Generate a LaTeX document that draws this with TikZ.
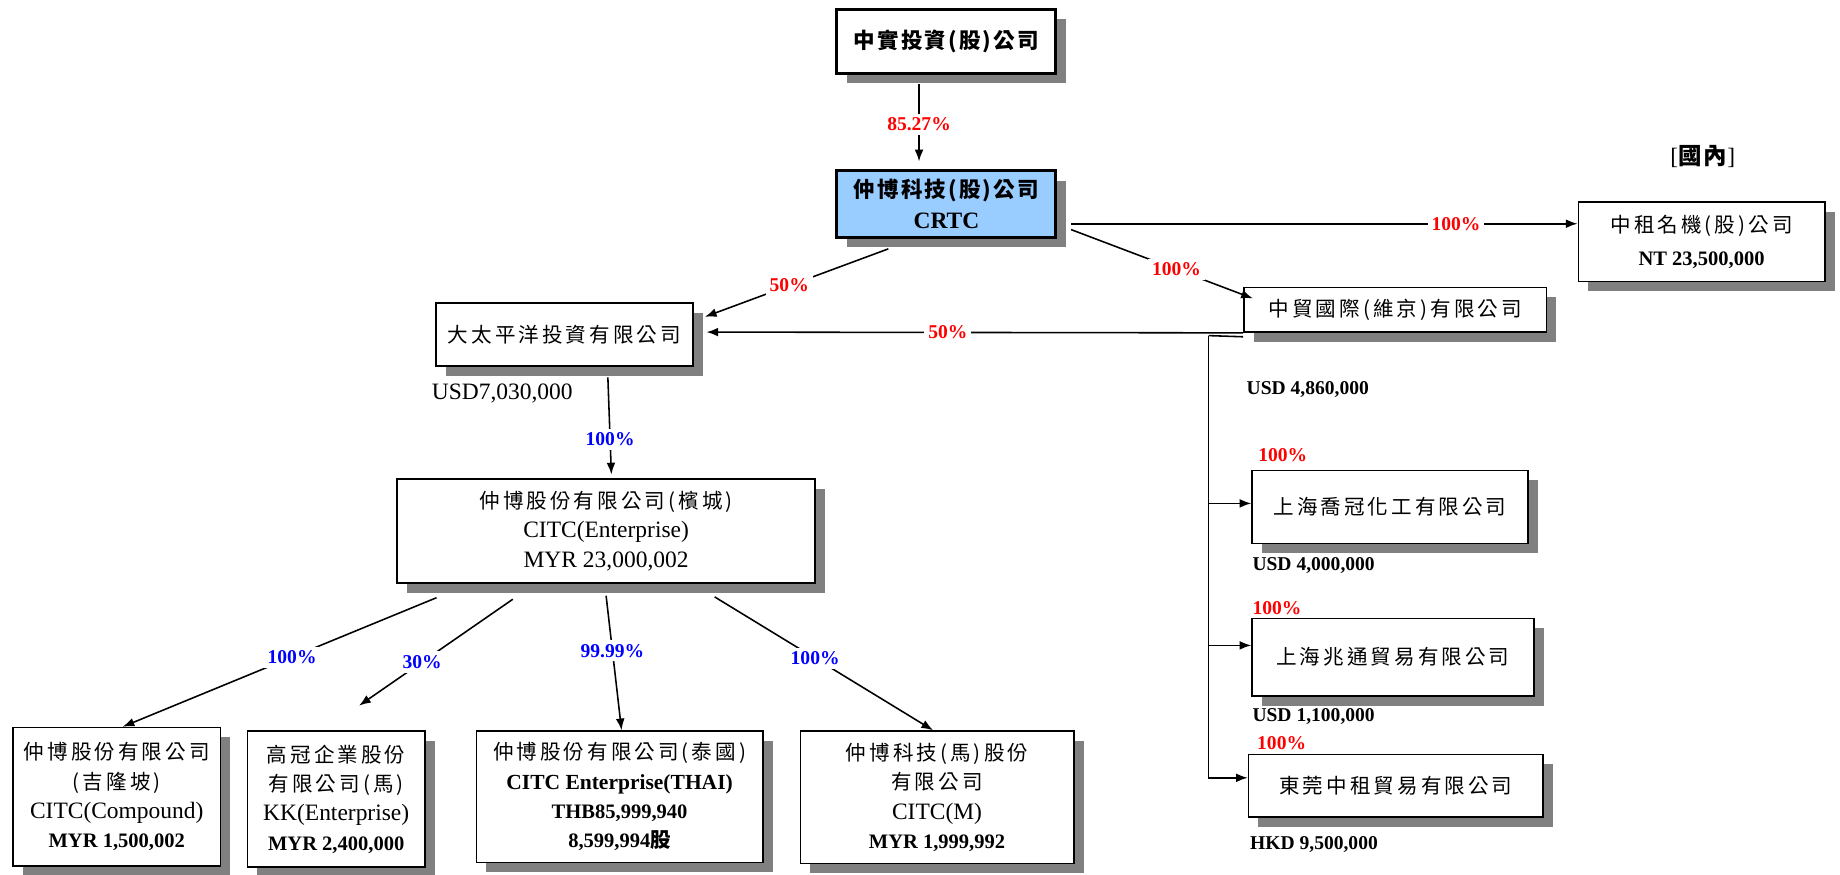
\documentclass[tikz,border=0pt]{standalone}
\usepackage{fontspec}
\setmainfont{Liberation Serif}
\newfontfamily\cjk{Noto Sans CJK TC}[LetterSpace=15]
\newfontfamily\cjkb{Noto Sans CJK TC}[LetterSpace=10]
\usetikzlibrary{positioning,shadows,arrows.meta}
\definecolor{skyfill}{HTML}{99CCFF}
\newcommand{\capfont}{\fontsize{10.5}{14}\selectfont\bfseries}

\tikzstyle{compblock} = [rectangle, draw=black, line width=0.8pt, fill=white, align=center, inner sep=1pt, drop shadow={shadow xshift=5pt, shadow yshift=-5pt, fill=gray, opacity=1}, font=\fontsize{12}{15}\selectfont]
\tikzstyle{keyblock} = [compblock, line width=1.5pt, font=\fontsize{11}{16}\selectfont\bfseries]
\tikzstyle{pctred} = [fill=white, inner sep=2pt, text=red, font=\fontsize{10}{12}\selectfont\bfseries]
\tikzstyle{pctblue} = [pctred, text=blue]
\tikzstyle{pcttag} = [anchor=west, inner sep=0pt, text=red, font=\fontsize{10}{12}\selectfont\bfseries]
\tikzstyle{capital} = [anchor=west, inner sep=0pt, font=\fontsize{10}{12}\selectfont\bfseries]

\begin{document}
\begin{tikzpicture}[x=0.6pt, y=-0.6pt, >={Latex[length=6pt,width=4.5pt]}]
\useasboundingbox (0,0) rectangle (1568,745);
%Company blocks
\node (zhongshi) [keyblock, minimum width=112pt, minimum height=32.7pt] at (806.5,35) {{\cjkb 中實投資(股)公司}};
\node (crtc) [keyblock, fill=skyfill, minimum width=112pt, minimum height=34.2pt] at (806.5,174) {{\cjkb 仲博科技(股)公司}\\{\fontsize{12}{16}\selectfont CRTC}};
\node (zhongzu) [compblock, minimum width=126pt, minimum height=40.8pt] at (1450,206) {{\cjk\fontsize{10.5}{15}\selectfont 中租名機(股)公司}\\[2pt]{\capfont NT 23,500,000}};
\node (zhongmao) [compblock, minimum width=154.8pt, minimum height=22.8pt] at (1189,264) {\cjk\fontsize{10.5}{15}\selectfont 中貿國際(維京)有限公司};
\node (taipy) [compblock, minimum width=131.4pt, minimum height=32.4pt] at (481,285) {\cjk\fontsize{10.5}{15}\selectfont 大太平洋投資有限公司};
\node (citcent) [compblock, minimum width=213.6pt, minimum height=53.4pt] at (516.5,452.5) {{\cjk\fontsize{10.5}{15}\selectfont 仲博股份有限公司(檳城)}\\CITC(Enterprise)\\MYR 23,000,002};

\node (citccomp) [compblock, minimum width=106.2pt, minimum height=70.8pt] at (99.5,679) {{\cjk\fontsize{10.5}{15}\selectfont 仲博股份有限公司}\\{\cjk\fontsize{10.5}{15}\selectfont (吉隆坡)}\\CITC(Compound)\\{\capfont MYR 1,500,002}};
\node (kkent) [compblock, minimum width=90.6pt, minimum height=69.6pt] at (286.5,681) {{\cjk\fontsize{10.5}{15}\selectfont 高冠企業股份}\\{\cjk\fontsize{10.5}{15}\selectfont 有限公司(馬)}\\KK(Enterprise)\\{\capfont MYR 2,400,000}};
\node (citcthai) [compblock, minimum width=146.4pt, minimum height=67.2pt] at (528,679) {{\cjk\fontsize{10.5}{15}\selectfont 仲博股份有限公司(泰國)}\\{\bfseries\fontsize{11}{14}\selectfont CITC Enterprise(THAI)}\\{\capfont THB85,999,940}\\{\capfont 8,599,994{\cjkb 股}}};
\node (citcm) [compblock, minimum width=139.8pt, minimum height=67.8pt] at (798.5,679.5) {{\cjk\fontsize{10.5}{15}\selectfont 仲博科技(馬)股份}\\{\cjk\fontsize{10.5}{15}\selectfont 有限公司}\\CITC(M)\\{\capfont MYR 1,999,992}};

\node (qiaoguan) [compblock, minimum width=141pt, minimum height=37.2pt] at (1184.5,432) {\cjk\fontsize{10.5}{15}\selectfont 上海喬冠化工有限公司};
\node (zhaotong) [compblock, minimum width=144pt, minimum height=39.6pt] at (1187,560) {\cjk\fontsize{10.5}{15}\selectfont 上海兆通貿易有限公司};
\node (dongguan) [compblock, minimum width=150.6pt, minimum height=31.8pt] at (1189.5,669.5) {\cjk\fontsize{10.5}{15}\selectfont 東莞中租貿易有限公司};

%Capital and labels
\node (domestic) [font=\fontsize{12}{14}\selectfont] at (1451,133) {[{\cjkb\bfseries 國內}]};
\node (usdtp) [font=\fontsize{12}{14}\selectfont] at (428,335) {USD7,030,000};
\node (usdzm) [capital] at (1062,332) {USD 4,860,000};
\node (usdqg) [capital] at (1067,481.5) {USD 4,000,000};
\node (usdzt) [capital] at (1067,611) {USD 1,100,000};
\node (hkddg) [capital] at (1065,720) {HKD 9,500,000};
\node (pctqg) [pcttag] at (1072,388) {100\%};
\node (pctzt) [pcttag] at (1067,518) {100\%};
\node (pctdg) [pcttag] at (1071,633) {100\%};

%Arrows
\draw [->,thick] ([xshift=-14pt,yshift=-5pt]zhongshi.south) -- node[pctred,pos=0.52] (pcrtc) {85.27\%} ([xshift=-14pt,yshift=4pt]crtc.north);
\coordinate (crtcout) at ([xshift=7pt,yshift=-10pt]crtc.east);
\draw [->,thick] (crtcout) -- node[pctred,pos=0.76] (pzz) {100\%} (crtcout -| zhongzu.west);
\draw [->,thick] ([xshift=7pt,yshift=-13pt]crtc.east) -- node[pctred,pos=0.58] (pzm) {100\%} ([xshift=5pt,yshift=-6pt]zhongmao.north west);
\draw [->,thick] ([xshift=-29.7pt,yshift=-5pt]crtc.south) -- node[pctred,pos=0.54] (ptp1) {50\%} ([xshift=5.7pt,yshift=9pt]taipy.east);
\draw [->,thick] (zhongmao.south west) -- node[pctred,pos=0.55] (ptp2) {50\%} ([xshift=6.5pt,yshift=1.2pt]taipy.east);
\draw [->,thick] ([xshift=22.2pt,yshift=-5.4pt]taipy.south) -- node[pctblue,pos=0.64] (pce) {100\%} ([xshift=2.7pt,yshift=1.8pt]citcent.north);

\coordinate (kkend) at ([xshift=11.7pt,yshift=12.6pt]kkent.north);
\draw [->,thick] ([xshift=-86.7pt,yshift=-7pt]citcent.south) -- node[pctblue,pos=0.46] (pcc) {100\%} ([xshift=3pt]citccomp.north);
\draw [->,thick] ([xshift=-47.7pt,yshift=-7.8pt]citcent.south) -- node[pctblue,pos=0.59] (pkk) {30\%} (kkend);
\draw [->,thick] ([yshift=-6pt]citcent.south) -- node[pctblue,pos=0.41] (pth) {99.99\%} ([xshift=1pt]citcthai.north);
\draw [->,thick] ([xshift=55.5pt,yshift=-6.6pt]citcent.south) -- node[pctblue,pos=0.46] (pcm) {100\%} ([xshift=-2pt]citcm.north);

\coordinate (trunk) at (1030,286);
\coordinate (tq) at ([yshift=1.8pt]qiaoguan.west);
\coordinate (tz) at ([yshift=6pt]zhaotong.west);
\coordinate (td) at ([yshift=4pt]dongguan.west);
\draw [thick] ([yshift=-2pt]zhongmao.south west) -- (trunk);
\draw [->,thick] (trunk) |- (td);
\draw [->,thick] (trunk |- tq) -- (tq);
\draw [->,thick] (trunk |- tz) -- (tz);
\end{tikzpicture}
\end{document}
